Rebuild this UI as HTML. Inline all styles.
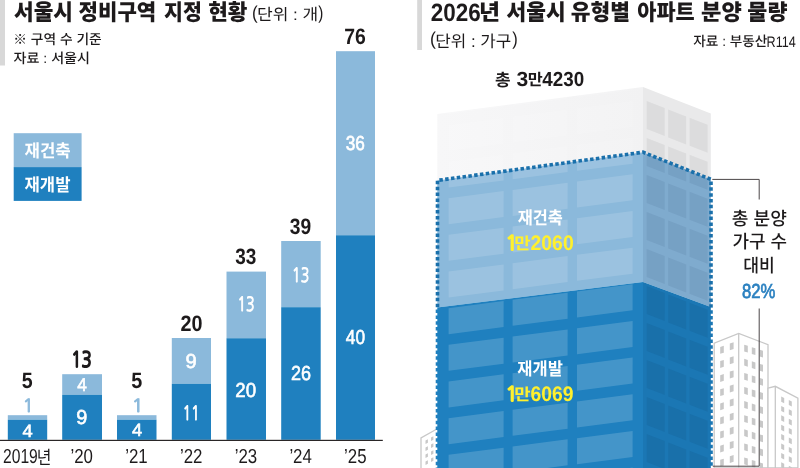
<!DOCTYPE html>
<html lang="ko"><head><meta charset="utf-8"><title>서울시 정비구역 지정 현황</title>
<style>
html,body{margin:0;padding:0;background:#fff;}
svg{display:block;font-family:"Liberation Sans","Noto Sans CJK KR",sans-serif;text-rendering:geometricPrecision;}
</style></head><body>
<svg width="800" height="468" viewBox="0 0 800 468">
<rect x="0" y="0" width="800" height="468" fill="#ffffff"/>
<rect x="0" y="0" width="5" height="65.5" fill="#d8d8d8"/>
<text fill="#1d1a1b"><tspan x="14.06" y="20.3" font-size="22.3" font-weight="900" textLength="58.91" lengthAdjust="spacingAndGlyphs">서울시</tspan> <tspan x="78.57" y="20.3" font-size="22.3" font-weight="900" textLength="77.73" lengthAdjust="spacingAndGlyphs">정비구역</tspan> <tspan x="164.0" y="20.3" font-size="22.3" font-weight="900" textLength="37.76" lengthAdjust="spacingAndGlyphs">지정</tspan> <tspan x="208.25" y="20.3" font-size="22.3" font-weight="900" textLength="39.22" lengthAdjust="spacingAndGlyphs">현황</tspan> <tspan x="252.0" y="18.94" font-size="18.5" font-weight="400" textLength="5.69" lengthAdjust="spacingAndGlyphs">(</tspan><tspan x="257.0" y="20.0" font-size="15.9" font-weight="400" textLength="61.29" lengthAdjust="spacingAndGlyphs">단위 : 개</tspan><tspan x="318.34" y="18.94" font-size="18.5" font-weight="400" textLength="5.09" lengthAdjust="spacingAndGlyphs">)</tspan></text>
<text x="13.25" y="43.9" font-size="13.7" font-weight="500" fill="#1d1a1b" textLength="88.42" lengthAdjust="spacingAndGlyphs">※ 구역 수 기준</text>
<text x="13.55" y="63.4" font-size="13.7" font-weight="500" fill="#1d1a1b" textLength="76.38" lengthAdjust="spacingAndGlyphs">자료 : 서울시</text>
<rect x="13.7" y="133.2" width="67.9" height="34" fill="#8bb9db"/>
<rect x="13.7" y="167.1" width="67.9" height="33.8" fill="#1f80bf"/>
<text x="24.56" y="156.7" font-size="17.7" font-weight="700" fill="#fff" textLength="46.15" lengthAdjust="spacingAndGlyphs">재건축</text>
<text x="24.56" y="190.85" font-size="17.7" font-weight="700" fill="#fff" textLength="45.91" lengthAdjust="spacingAndGlyphs">재개발</text>
<rect x="7.8" y="415.2" width="39.4" height="4.5" fill="#8bb9db"/>
<rect x="7.8" y="419.7" width="39.4" height="20.1" fill="#1f80bf"/>
<rect x="62.2" y="374.2" width="39.8" height="20.6" fill="#8bb9db"/>
<rect x="62.2" y="394.8" width="39.8" height="45.0" fill="#1f80bf"/>
<rect x="117" y="415.2" width="39.5" height="4.5" fill="#8bb9db"/>
<rect x="117" y="419.7" width="39.5" height="20.1" fill="#1f80bf"/>
<rect x="171.8" y="338" width="39.2" height="45.8" fill="#8bb9db"/>
<rect x="171.8" y="383.8" width="39.2" height="56.0" fill="#1f80bf"/>
<rect x="226.5" y="271.6" width="39.5" height="66.65" fill="#8bb9db"/>
<rect x="226.5" y="338.25" width="39.5" height="101.55" fill="#1f80bf"/>
<rect x="281.2" y="241" width="39.5" height="66.2" fill="#8bb9db"/>
<rect x="281.2" y="307.2" width="39.5" height="132.6" fill="#1f80bf"/>
<rect x="336" y="51.2" width="39" height="184.05" fill="#8bb9db"/>
<rect x="336" y="235.25" width="39" height="204.55" fill="#1f80bf"/>
<text x="21.86" y="387.9" font-size="22.3" font-weight="700" fill="#1d1a1b" textLength="10.91" lengthAdjust="spacingAndGlyphs">5</text>
<text x="71.28" y="367.4" font-size="21.3" font-weight="400" fill="#1d1a1b" stroke="#1d1a1b" stroke-width="1.7" textLength="20.37" lengthAdjust="spacingAndGlyphs" font-family="'NanumGothic','Liberation Sans',sans-serif">13</text>
<text x="131.34" y="388.1" font-size="22.3" font-weight="700" fill="#1d1a1b" textLength="11.03" lengthAdjust="spacingAndGlyphs">5</text>
<text x="180.5" y="331.0" font-size="22.3" font-weight="700" fill="#1d1a1b" textLength="22.03" lengthAdjust="spacingAndGlyphs">20</text>
<text x="235.29" y="264.4" font-size="22.3" font-weight="700" fill="#1d1a1b" textLength="21.12" lengthAdjust="spacingAndGlyphs">33</text>
<text x="289.79" y="234.0" font-size="22.3" font-weight="700" fill="#1d1a1b" textLength="21.39" lengthAdjust="spacingAndGlyphs">39</text>
<text x="344.32" y="44.4" font-size="22.3" font-weight="700" fill="#1d1a1b" textLength="21.59" lengthAdjust="spacingAndGlyphs">76</text>
<text x="22.75" y="411.59" font-size="18" font-weight="400" fill="#8bb9db" stroke="#8bb9db" stroke-width="1.0" textLength="10.92" lengthAdjust="spacingAndGlyphs" font-family="'NanumGothic','Liberation Sans',sans-serif">1</text>
<text x="131.79" y="412.44" font-size="18" font-weight="400" fill="#8bb9db" stroke="#8bb9db" stroke-width="1.0" textLength="11.86" lengthAdjust="spacingAndGlyphs" font-family="'NanumGothic','Liberation Sans',sans-serif">1</text>
<text x="22.57" y="436.7" font-size="17.8" font-weight="400" fill="#fff" stroke="#fff" stroke-width="0.6" textLength="10.16" lengthAdjust="spacingAndGlyphs">4</text>
<text x="77.29" y="390.59" font-size="18.6" font-weight="400" fill="#fff" stroke="#fff" stroke-width="0.6" textLength="9.64" lengthAdjust="spacingAndGlyphs">4</text>
<text x="76.35" y="423.6" font-size="20.2" font-weight="400" fill="#fff" stroke="#fff" stroke-width="0.6" textLength="11.05" lengthAdjust="spacingAndGlyphs">9</text>
<text x="132.0" y="436.2" font-size="17.8" font-weight="400" fill="#fff" stroke="#fff" stroke-width="0.6" textLength="10.17" lengthAdjust="spacingAndGlyphs">4</text>
<text x="185.52" y="368.2" font-size="20.2" font-weight="400" fill="#fff" stroke="#fff" stroke-width="0.6" textLength="11.25" lengthAdjust="spacingAndGlyphs">9</text>
<text x="182.78" y="419.69" font-size="19.4" font-weight="400" fill="#fff" stroke="#fff" stroke-width="1.0" textLength="16.79" lengthAdjust="spacingAndGlyphs" font-family="'NanumGothic','Liberation Sans',sans-serif">11</text>
<text x="237.52" y="311.41" font-size="19.4" font-weight="400" fill="#fff" stroke="#fff" stroke-width="1.0" textLength="17.14" lengthAdjust="spacingAndGlyphs" font-family="'NanumGothic','Liberation Sans',sans-serif">13</text>
<text x="235.33" y="396.75" font-size="20.2" font-weight="400" fill="#fff" stroke="#fff" stroke-width="0.6" textLength="20.83" lengthAdjust="spacingAndGlyphs">20</text>
<text x="292.07" y="281.55" font-size="19.4" font-weight="400" fill="#fff" stroke="#fff" stroke-width="1.0" textLength="17.18" lengthAdjust="spacingAndGlyphs" font-family="'NanumGothic','Liberation Sans',sans-serif">13</text>
<text x="291.02" y="380.25" font-size="20.2" font-weight="400" fill="#fff" stroke="#fff" stroke-width="0.6" textLength="20.03" lengthAdjust="spacingAndGlyphs">26</text>
<text x="345.77" y="149.5" font-size="20.2" font-weight="400" fill="#fff" stroke="#fff" stroke-width="0.6" textLength="19.14" lengthAdjust="spacingAndGlyphs">36</text>
<text x="345.83" y="344.25" font-size="20.2" font-weight="400" fill="#fff" stroke="#fff" stroke-width="0.6" textLength="19.25" lengthAdjust="spacingAndGlyphs">40</text>
<text fill="#1d1a1b"><tspan x="3.0" y="463.3" font-size="20.2" font-weight="400" textLength="34.84" lengthAdjust="spacingAndGlyphs">2019</tspan><tspan x="36.76" y="463.64" font-size="18.6" font-weight="400" textLength="14.66" lengthAdjust="spacingAndGlyphs">년</tspan></text>
<text x="70.5" y="463.3" font-size="20.2" font-weight="400" fill="#1d1a1b" textLength="22.5" lengthAdjust="spacingAndGlyphs">’20</text>
<text x="125.22" y="463.3" font-size="20.2" font-weight="400" fill="#1d1a1b" textLength="22.5" lengthAdjust="spacingAndGlyphs">’21</text>
<text x="179.94" y="463.3" font-size="20.2" font-weight="400" fill="#1d1a1b" textLength="22.5" lengthAdjust="spacingAndGlyphs">’22</text>
<text x="234.66" y="463.3" font-size="20.2" font-weight="400" fill="#1d1a1b" textLength="22.5" lengthAdjust="spacingAndGlyphs">’23</text>
<text x="289.38" y="463.3" font-size="20.2" font-weight="400" fill="#1d1a1b" textLength="22.5" lengthAdjust="spacingAndGlyphs">’24</text>
<text x="344.1" y="463.3" font-size="20.2" font-weight="400" fill="#1d1a1b" textLength="22.5" lengthAdjust="spacingAndGlyphs">’25</text>
<rect x="0" y="439.8" width="382.8" height="1.2" fill="#2a2627"/>
<rect x="417.2" y="0" width="4.8" height="50" fill="#d8d8d8"/>
<text fill="#1d1a1b"><tspan x="430.75" y="20.6" font-size="25.2" font-weight="700" textLength="49.9" lengthAdjust="spacingAndGlyphs">2026</tspan><tspan x="479.06" y="20.3" font-size="22.3" font-weight="900" textLength="21.02" lengthAdjust="spacingAndGlyphs">년</tspan> <tspan x="506.52" y="20.3" font-size="22.3" font-weight="900" textLength="59.13" lengthAdjust="spacingAndGlyphs">서울시</tspan> <tspan x="570.75" y="20.3" font-size="22.3" font-weight="900" textLength="59.21" lengthAdjust="spacingAndGlyphs">유형별</tspan> <tspan x="637.28" y="20.3" font-size="22.3" font-weight="900" textLength="57.42" lengthAdjust="spacingAndGlyphs">아파트</tspan> <tspan x="701.11" y="20.3" font-size="22.3" font-weight="900" textLength="40.78" lengthAdjust="spacingAndGlyphs">분양</tspan> <tspan x="747.36" y="20.3" font-size="22.3" font-weight="900" textLength="40.08" lengthAdjust="spacingAndGlyphs">물량</tspan></text>
<text fill="#1d1a1b"><tspan x="430.0" y="45.44" font-size="18.5" font-weight="400" textLength="5.91" lengthAdjust="spacingAndGlyphs">(</tspan><tspan x="435.33" y="46.95" font-size="16.4" font-weight="400" textLength="76.03" lengthAdjust="spacingAndGlyphs">단위 : 가구</tspan><tspan x="512.33" y="45.44" font-size="18.5" font-weight="400" textLength="5.49" lengthAdjust="spacingAndGlyphs">)</tspan></text>
<text fill="#1d1a1b"><tspan x="693.29" y="46.4" font-size="13.7" font-weight="500" textLength="74.13" lengthAdjust="spacingAndGlyphs">자료 : 부동산</tspan><tspan x="766.53" y="47.0" font-size="15.2" font-weight="500" textLength="29.25" lengthAdjust="spacingAndGlyphs">R114</tspan></text>
<text fill="#1d1a1b"><tspan x="495.05" y="85.5" font-size="17" font-weight="700" textLength="15.59" lengthAdjust="spacingAndGlyphs">총</tspan> <tspan x="516.5" y="85.7" font-size="20.5" font-weight="700" textLength="11.72" lengthAdjust="spacingAndGlyphs">3</tspan><tspan x="527.75" y="85.0" font-size="15.8" font-weight="700" textLength="14.98" lengthAdjust="spacingAndGlyphs">만</tspan><tspan x="542.37" y="85.7" font-size="20.5" font-weight="700" textLength="41.86" lengthAdjust="spacingAndGlyphs">4230</tspan></text>
<polyline points="421,468 421,438 436,429.5" fill="none" stroke="#c8c8c8" stroke-width="1.3"/>
<polygon points="425.5,440.5 427.9,439.18 427.9,442.78 425.5,444.1" fill="#c8c8c8"/>
<polygon points="431,437.5 433.4,436.18 433.4,439.78 431,441.1" fill="#c8c8c8"/>
<polygon points="425.5,447.5 427.9,446.18 427.9,449.78 425.5,451.1" fill="#c8c8c8"/>
<polygon points="431,444.5 433.4,443.18 433.4,446.78 431,448.1" fill="#c8c8c8"/>
<polygon points="425.5,454.5 427.9,453.18 427.9,456.78 425.5,458.1" fill="#c8c8c8"/>
<polygon points="431,451.5 433.4,450.18 433.4,453.78 431,455.1" fill="#c8c8c8"/>
<polygon points="425.5,461.5 427.9,460.18 427.9,463.78 425.5,465.1" fill="#c8c8c8"/>
<polygon points="431,458.5 433.4,457.18 433.4,460.78 431,462.1" fill="#c8c8c8"/>
<polygon points="714.2,468 714.2,343.2 738.7,333.5 768,344.6 768,468" fill="#fff" stroke="#c8c8c8" stroke-width="1.3"/>
<line x1="738.7" y1="333.5" x2="738.7" y2="468" stroke="#c8c8c8" stroke-width="1.3"/>
<polygon points="720.2,347.0 723.8,345.85 723.8,352.65 720.2,353.8" fill="#c8c8c8"/>
<polygon points="729.8,343.4 733.6,342.18 733.6,348.98 729.8,350.2" fill="#c8c8c8"/>
<polygon points="744.2,344.7 747.8,345.78 747.8,352.58 744.2,351.5" fill="#c8c8c8"/>
<polygon points="751.8,347.2 755.4,348.28 755.4,355.08 751.8,354.0" fill="#c8c8c8"/>
<polygon points="759.8,349.8 763.0,350.76 763.0,357.56 759.8,356.6" fill="#c8c8c8"/>
<polygon points="720.2,361.1 723.8,359.95 723.8,366.75 720.2,367.9" fill="#c8c8c8"/>
<polygon points="729.8,357.5 733.6,356.28 733.6,363.08 729.8,364.3" fill="#c8c8c8"/>
<polygon points="744.2,358.8 747.8,359.88 747.8,366.68 744.2,365.6" fill="#c8c8c8"/>
<polygon points="751.8,361.3 755.4,362.38 755.4,369.18 751.8,368.1" fill="#c8c8c8"/>
<polygon points="759.8,363.9 763.0,364.86 763.0,371.66 759.8,370.7" fill="#c8c8c8"/>
<polygon points="720.2,375.2 723.8,374.05 723.8,380.85 720.2,382.0" fill="#c8c8c8"/>
<polygon points="729.8,371.6 733.6,370.38 733.6,377.18 729.8,378.4" fill="#c8c8c8"/>
<polygon points="744.2,372.9 747.8,373.98 747.8,380.78 744.2,379.7" fill="#c8c8c8"/>
<polygon points="751.8,375.4 755.4,376.48 755.4,383.28 751.8,382.2" fill="#c8c8c8"/>
<polygon points="759.8,378.0 763.0,378.96 763.0,385.76 759.8,384.8" fill="#c8c8c8"/>
<polygon points="720.2,389.3 723.8,388.15 723.8,394.95 720.2,396.1" fill="#c8c8c8"/>
<polygon points="729.8,385.7 733.6,384.48 733.6,391.28 729.8,392.5" fill="#c8c8c8"/>
<polygon points="744.2,387.0 747.8,388.08 747.8,394.88 744.2,393.8" fill="#c8c8c8"/>
<polygon points="751.8,389.5 755.4,390.58 755.4,397.38 751.8,396.3" fill="#c8c8c8"/>
<polygon points="759.8,392.1 763.0,393.06 763.0,399.86 759.8,398.9" fill="#c8c8c8"/>
<polygon points="720.2,403.4 723.8,402.25 723.8,409.05 720.2,410.2" fill="#c8c8c8"/>
<polygon points="729.8,399.8 733.6,398.58 733.6,405.38 729.8,406.6" fill="#c8c8c8"/>
<polygon points="744.2,401.1 747.8,402.18 747.8,408.98 744.2,407.9" fill="#c8c8c8"/>
<polygon points="751.8,403.6 755.4,404.68 755.4,411.48 751.8,410.4" fill="#c8c8c8"/>
<polygon points="759.8,406.2 763.0,407.16 763.0,413.96 759.8,413.0" fill="#c8c8c8"/>
<polygon points="720.2,417.5 723.8,416.35 723.8,423.15 720.2,424.3" fill="#c8c8c8"/>
<polygon points="729.8,413.9 733.6,412.68 733.6,419.48 729.8,420.7" fill="#c8c8c8"/>
<polygon points="744.2,415.2 747.8,416.28 747.8,423.08 744.2,422.0" fill="#c8c8c8"/>
<polygon points="751.8,417.7 755.4,418.78 755.4,425.58 751.8,424.5" fill="#c8c8c8"/>
<polygon points="759.8,420.3 763.0,421.26 763.0,428.06 759.8,427.1" fill="#c8c8c8"/>
<polygon points="720.2,431.6 723.8,430.45 723.8,437.25 720.2,438.4" fill="#c8c8c8"/>
<polygon points="729.8,428.0 733.6,426.78 733.6,433.58 729.8,434.8" fill="#c8c8c8"/>
<polygon points="744.2,429.3 747.8,430.38 747.8,437.18 744.2,436.1" fill="#c8c8c8"/>
<polygon points="751.8,431.8 755.4,432.88 755.4,439.68 751.8,438.6" fill="#c8c8c8"/>
<polygon points="759.8,434.4 763.0,435.36 763.0,442.16 759.8,441.2" fill="#c8c8c8"/>
<polygon points="720.2,445.7 723.8,444.55 723.8,451.35 720.2,452.5" fill="#c8c8c8"/>
<polygon points="729.8,442.1 733.6,440.88 733.6,447.68 729.8,448.9" fill="#c8c8c8"/>
<polygon points="744.2,443.4 747.8,444.48 747.8,451.28 744.2,450.2" fill="#c8c8c8"/>
<polygon points="751.8,445.9 755.4,446.98 755.4,453.78 751.8,452.7" fill="#c8c8c8"/>
<polygon points="759.8,448.5 763.0,449.46 763.0,456.26 759.8,455.3" fill="#c8c8c8"/>
<polygon points="720.2,459.8 723.8,458.65 723.8,465.45 720.2,466.6" fill="#c8c8c8"/>
<polygon points="729.8,456.2 733.6,454.98 733.6,461.78 729.8,463.0" fill="#c8c8c8"/>
<polygon points="744.2,457.5 747.8,458.58 747.8,465.38 744.2,464.3" fill="#c8c8c8"/>
<polygon points="751.8,460.0 755.4,461.08 755.4,467.88 751.8,466.8" fill="#c8c8c8"/>
<polygon points="759.8,462.6 763.0,463.56 763.0,470.36 759.8,469.4" fill="#c8c8c8"/>
<polygon points="768,388.2 775.3,386.3 797.9,398.2 797.9,468 768,468" fill="#fff" stroke="#c8c8c8" stroke-width="1.3"/>
<line x1="775.3" y1="386.3" x2="775.3" y2="468" stroke="#c8c8c8" stroke-width="1.3"/>
<polygon points="781.2,396.5 784.2,398.0 784.2,403.2 781.2,401.7" fill="#c8c8c8"/>
<polygon points="788.8,399.9 791.8,401.4 791.8,406.6 788.8,405.1" fill="#c8c8c8"/>
<polygon points="781.2,405.9 784.2,407.4 784.2,412.6 781.2,411.1" fill="#c8c8c8"/>
<polygon points="788.8,409.3 791.8,410.8 791.8,416.0 788.8,414.5" fill="#c8c8c8"/>
<polygon points="781.2,415.3 784.2,416.8 784.2,422.0 781.2,420.5" fill="#c8c8c8"/>
<polygon points="788.8,418.7 791.8,420.2 791.8,425.4 788.8,423.9" fill="#c8c8c8"/>
<polygon points="781.2,424.7 784.2,426.2 784.2,431.4 781.2,429.9" fill="#c8c8c8"/>
<polygon points="788.8,428.1 791.8,429.6 791.8,434.8 788.8,433.3" fill="#c8c8c8"/>
<polygon points="781.2,434.1 784.2,435.6 784.2,440.8 781.2,439.3" fill="#c8c8c8"/>
<polygon points="788.8,437.5 791.8,439.0 791.8,444.2 788.8,442.7" fill="#c8c8c8"/>
<polygon points="781.2,443.5 784.2,445.0 784.2,450.2 781.2,448.7" fill="#c8c8c8"/>
<polygon points="788.8,446.9 791.8,448.4 791.8,453.6 788.8,452.1" fill="#c8c8c8"/>
<polygon points="781.2,452.9 784.2,454.4 784.2,459.6 781.2,458.1" fill="#c8c8c8"/>
<polygon points="788.8,456.3 791.8,457.8 791.8,463.0 788.8,461.5" fill="#c8c8c8"/>
<polygon points="781.2,462.3 784.2,463.8 784.2,469.0 781.2,467.5" fill="#c8c8c8"/>
<polygon points="788.8,465.7 791.8,467.2 791.8,472.4 788.8,470.9" fill="#c8c8c8"/>
<defs>
<clipPath id="cfw"><polygon points="437.3,114 643,87 643,152.2 437.3,180.4"/></clipPath>
<clipPath id="cfb"><polygon points="437.3,180.4 643,152.2 643,282 437.3,307.5"/></clipPath>
<clipPath id="cfd"><polygon points="437.3,307.5 643,282 643,468 437.3,468"/></clipPath>
<clipPath id="csw"><polygon points="643,87 710.8,113.58 710.8,179.4 643,152.2"/></clipPath>
<clipPath id="csb"><polygon points="643,152.2 710.8,179.4 710.8,307 643,282"/></clipPath>
<clipPath id="csd"><polygon points="643,282 710.8,307 710.8,468 643,468"/></clipPath>
<clipPath id="cfd2"><rect x="400" y="0" width="200" height="480"/></clipPath><clipPath id="csd2"><rect x="600" y="0" width="200" height="480"/></clipPath>
<linearGradient id="gw" x1="0" y1="0" x2="1" y2="0"><stop offset="0" stop-color="#f7f7f8"/><stop offset="1" stop-color="#f2f2f3"/></linearGradient>
</defs>
<polygon points="437.3,114 643,87 643,152.2 437.3,180.4" fill="url(#gw)"/>
<polygon points="643,87 710.8,113.58 710.8,179.4 643,152.2" fill="#e9e9ea"/>
<polygon points="437.3,180.4 643,152.2 643,282 437.3,307.5" fill="#8bb9db"/>
<polygon points="643,152.2 710.8,179.4 710.8,307 643,282" fill="#7fabce"/>
<polygon points="437.3,307.5 643,282 643,468 437.3,468" fill="#1f80bf"/>
<polygon points="643,282 710.8,307 710.8,468 643,468" fill="#1b77b4"/>
<g clip-path="url(#cfw)">
<polygon points="448.6,88.22 503.6,81.08 503.6,107.08 448.6,114.22" fill="#ffffff" fill-opacity="0.13"/>
<polygon points="448.6,124.88 503.6,117.74 503.6,143.74 448.6,150.88" fill="#ffffff" fill-opacity="0.13"/>
<polygon points="448.6,161.54 503.6,154.4 503.6,180.4 448.6,187.54" fill="#ffffff" fill-opacity="0.13"/>
<polygon points="448.6,198.2 503.6,191.06 503.6,217.06 448.6,224.2" fill="#ffffff" fill-opacity="0.13"/>
<polygon points="448.6,234.86 503.6,227.72 503.6,253.72 448.6,260.86" fill="#ffffff" fill-opacity="0.13"/>
<polygon points="448.6,271.52 503.6,264.38 503.6,290.38 448.6,297.52" fill="#ffffff" fill-opacity="0.13"/>
<polygon points="448.6,308.18 503.6,301.04 503.6,327.04 448.6,334.18" fill="#ffffff" fill-opacity="0.13"/>
<polygon points="448.6,344.84 503.6,337.7 503.6,363.7 448.6,370.84" fill="#ffffff" fill-opacity="0.13"/>
<polygon points="448.6,381.5 503.6,374.36 503.6,400.36 448.6,407.5" fill="#ffffff" fill-opacity="0.13"/>
<polygon points="448.6,418.16 503.6,411.02 503.6,437.02 448.6,444.16" fill="#ffffff" fill-opacity="0.13"/>
<polygon points="448.6,454.82 503.6,447.68 503.6,473.68 448.6,480.82" fill="#ffffff" fill-opacity="0.13"/>
<polygon points="448.6,491.48 503.6,484.34 503.6,510.34 448.6,517.48" fill="#ffffff" fill-opacity="0.13"/>
<polygon points="512.6,79.91 567.6,72.77 567.6,98.77 512.6,105.91" fill="#ffffff" fill-opacity="0.13"/>
<polygon points="512.6,116.57 567.6,109.43 567.6,135.43 512.6,142.57" fill="#ffffff" fill-opacity="0.13"/>
<polygon points="512.6,153.23 567.6,146.09 567.6,172.09 512.6,179.23" fill="#ffffff" fill-opacity="0.13"/>
<polygon points="512.6,189.89 567.6,182.75 567.6,208.75 512.6,215.89" fill="#ffffff" fill-opacity="0.13"/>
<polygon points="512.6,226.55 567.6,219.41 567.6,245.41 512.6,252.55" fill="#ffffff" fill-opacity="0.13"/>
<polygon points="512.6,263.21 567.6,256.07 567.6,282.07 512.6,289.21" fill="#ffffff" fill-opacity="0.13"/>
<polygon points="512.6,299.87 567.6,292.73 567.6,318.73 512.6,325.87" fill="#ffffff" fill-opacity="0.13"/>
<polygon points="512.6,336.53 567.6,329.39 567.6,355.39 512.6,362.53" fill="#ffffff" fill-opacity="0.13"/>
<polygon points="512.6,373.19 567.6,366.05 567.6,392.05 512.6,399.19" fill="#ffffff" fill-opacity="0.13"/>
<polygon points="512.6,409.85 567.6,402.71 567.6,428.71 512.6,435.85" fill="#ffffff" fill-opacity="0.13"/>
<polygon points="512.6,446.51 567.6,439.37 567.6,465.37 512.6,472.51" fill="#ffffff" fill-opacity="0.13"/>
<polygon points="512.6,483.17 567.6,476.03 567.6,502.03 512.6,509.17" fill="#ffffff" fill-opacity="0.13"/>
<polygon points="577,71.55 632.6,64.33 632.6,90.33 577,97.55" fill="#ffffff" fill-opacity="0.13"/>
<polygon points="577,108.21 632.6,100.99 632.6,126.99 577,134.21" fill="#ffffff" fill-opacity="0.13"/>
<polygon points="577,144.87 632.6,137.65 632.6,163.65 577,170.87" fill="#ffffff" fill-opacity="0.13"/>
<polygon points="577,181.53 632.6,174.31 632.6,200.31 577,207.53" fill="#ffffff" fill-opacity="0.13"/>
<polygon points="577,218.19 632.6,210.97 632.6,236.97 577,244.19" fill="#ffffff" fill-opacity="0.13"/>
<polygon points="577,254.85 632.6,247.63 632.6,273.63 577,280.85" fill="#ffffff" fill-opacity="0.13"/>
<polygon points="577,291.51 632.6,284.29 632.6,310.29 577,317.51" fill="#ffffff" fill-opacity="0.13"/>
<polygon points="577,328.17 632.6,320.95 632.6,346.95 577,354.17" fill="#ffffff" fill-opacity="0.13"/>
<polygon points="577,364.83 632.6,357.61 632.6,383.61 577,390.83" fill="#ffffff" fill-opacity="0.13"/>
<polygon points="577,401.49 632.6,394.27 632.6,420.27 577,427.49" fill="#ffffff" fill-opacity="0.13"/>
<polygon points="577,438.15 632.6,430.93 632.6,456.93 577,464.15" fill="#ffffff" fill-opacity="0.13"/>
<polygon points="577,474.81 632.6,467.59 632.6,493.59 577,500.81" fill="#ffffff" fill-opacity="0.13"/>
</g>
<g clip-path="url(#cfb)">
<polygon points="448.6,88.22 503.6,81.08 503.6,107.08 448.6,114.22" fill="#ffffff" fill-opacity="0.14"/>
<polygon points="448.6,124.88 503.6,117.74 503.6,143.74 448.6,150.88" fill="#ffffff" fill-opacity="0.14"/>
<polygon points="448.6,161.54 503.6,154.4 503.6,180.4 448.6,187.54" fill="#ffffff" fill-opacity="0.14"/>
<polygon points="448.6,198.2 503.6,191.06 503.6,217.06 448.6,224.2" fill="#ffffff" fill-opacity="0.14"/>
<polygon points="448.6,234.86 503.6,227.72 503.6,253.72 448.6,260.86" fill="#ffffff" fill-opacity="0.14"/>
<polygon points="448.6,271.52 503.6,264.38 503.6,290.38 448.6,297.52" fill="#ffffff" fill-opacity="0.14"/>
<polygon points="448.6,308.18 503.6,301.04 503.6,327.04 448.6,334.18" fill="#ffffff" fill-opacity="0.14"/>
<polygon points="448.6,344.84 503.6,337.7 503.6,363.7 448.6,370.84" fill="#ffffff" fill-opacity="0.14"/>
<polygon points="448.6,381.5 503.6,374.36 503.6,400.36 448.6,407.5" fill="#ffffff" fill-opacity="0.14"/>
<polygon points="448.6,418.16 503.6,411.02 503.6,437.02 448.6,444.16" fill="#ffffff" fill-opacity="0.14"/>
<polygon points="448.6,454.82 503.6,447.68 503.6,473.68 448.6,480.82" fill="#ffffff" fill-opacity="0.14"/>
<polygon points="448.6,491.48 503.6,484.34 503.6,510.34 448.6,517.48" fill="#ffffff" fill-opacity="0.14"/>
<polygon points="512.6,79.91 567.6,72.77 567.6,98.77 512.6,105.91" fill="#ffffff" fill-opacity="0.14"/>
<polygon points="512.6,116.57 567.6,109.43 567.6,135.43 512.6,142.57" fill="#ffffff" fill-opacity="0.14"/>
<polygon points="512.6,153.23 567.6,146.09 567.6,172.09 512.6,179.23" fill="#ffffff" fill-opacity="0.14"/>
<polygon points="512.6,189.89 567.6,182.75 567.6,208.75 512.6,215.89" fill="#ffffff" fill-opacity="0.14"/>
<polygon points="512.6,226.55 567.6,219.41 567.6,245.41 512.6,252.55" fill="#ffffff" fill-opacity="0.14"/>
<polygon points="512.6,263.21 567.6,256.07 567.6,282.07 512.6,289.21" fill="#ffffff" fill-opacity="0.14"/>
<polygon points="512.6,299.87 567.6,292.73 567.6,318.73 512.6,325.87" fill="#ffffff" fill-opacity="0.14"/>
<polygon points="512.6,336.53 567.6,329.39 567.6,355.39 512.6,362.53" fill="#ffffff" fill-opacity="0.14"/>
<polygon points="512.6,373.19 567.6,366.05 567.6,392.05 512.6,399.19" fill="#ffffff" fill-opacity="0.14"/>
<polygon points="512.6,409.85 567.6,402.71 567.6,428.71 512.6,435.85" fill="#ffffff" fill-opacity="0.14"/>
<polygon points="512.6,446.51 567.6,439.37 567.6,465.37 512.6,472.51" fill="#ffffff" fill-opacity="0.14"/>
<polygon points="512.6,483.17 567.6,476.03 567.6,502.03 512.6,509.17" fill="#ffffff" fill-opacity="0.14"/>
<polygon points="577,71.55 632.6,64.33 632.6,90.33 577,97.55" fill="#ffffff" fill-opacity="0.14"/>
<polygon points="577,108.21 632.6,100.99 632.6,126.99 577,134.21" fill="#ffffff" fill-opacity="0.14"/>
<polygon points="577,144.87 632.6,137.65 632.6,163.65 577,170.87" fill="#ffffff" fill-opacity="0.14"/>
<polygon points="577,181.53 632.6,174.31 632.6,200.31 577,207.53" fill="#ffffff" fill-opacity="0.14"/>
<polygon points="577,218.19 632.6,210.97 632.6,236.97 577,244.19" fill="#ffffff" fill-opacity="0.14"/>
<polygon points="577,254.85 632.6,247.63 632.6,273.63 577,280.85" fill="#ffffff" fill-opacity="0.14"/>
<polygon points="577,291.51 632.6,284.29 632.6,310.29 577,317.51" fill="#ffffff" fill-opacity="0.14"/>
<polygon points="577,328.17 632.6,320.95 632.6,346.95 577,354.17" fill="#ffffff" fill-opacity="0.14"/>
<polygon points="577,364.83 632.6,357.61 632.6,383.61 577,390.83" fill="#ffffff" fill-opacity="0.14"/>
<polygon points="577,401.49 632.6,394.27 632.6,420.27 577,427.49" fill="#ffffff" fill-opacity="0.14"/>
<polygon points="577,438.15 632.6,430.93 632.6,456.93 577,464.15" fill="#ffffff" fill-opacity="0.14"/>
<polygon points="577,474.81 632.6,467.59 632.6,493.59 577,500.81" fill="#ffffff" fill-opacity="0.14"/>
</g>
<g clip-path="url(#cfd)">
<polygon points="448.6,88.22 503.6,81.08 503.6,107.08 448.6,114.22" fill="#ffffff" fill-opacity="0.17"/>
<polygon points="448.6,124.88 503.6,117.74 503.6,143.74 448.6,150.88" fill="#ffffff" fill-opacity="0.17"/>
<polygon points="448.6,161.54 503.6,154.4 503.6,180.4 448.6,187.54" fill="#ffffff" fill-opacity="0.17"/>
<polygon points="448.6,198.2 503.6,191.06 503.6,217.06 448.6,224.2" fill="#ffffff" fill-opacity="0.17"/>
<polygon points="448.6,234.86 503.6,227.72 503.6,253.72 448.6,260.86" fill="#ffffff" fill-opacity="0.17"/>
<polygon points="448.6,271.52 503.6,264.38 503.6,290.38 448.6,297.52" fill="#ffffff" fill-opacity="0.17"/>
<polygon points="448.6,308.18 503.6,301.04 503.6,327.04 448.6,334.18" fill="#ffffff" fill-opacity="0.17"/>
<polygon points="448.6,344.84 503.6,337.7 503.6,363.7 448.6,370.84" fill="#ffffff" fill-opacity="0.17"/>
<polygon points="448.6,381.5 503.6,374.36 503.6,400.36 448.6,407.5" fill="#ffffff" fill-opacity="0.17"/>
<polygon points="448.6,418.16 503.6,411.02 503.6,437.02 448.6,444.16" fill="#ffffff" fill-opacity="0.17"/>
<polygon points="448.6,454.82 503.6,447.68 503.6,473.68 448.6,480.82" fill="#ffffff" fill-opacity="0.17"/>
<polygon points="448.6,491.48 503.6,484.34 503.6,510.34 448.6,517.48" fill="#ffffff" fill-opacity="0.17"/>
<polygon points="512.6,79.91 567.6,72.77 567.6,98.77 512.6,105.91" fill="#ffffff" fill-opacity="0.17"/>
<polygon points="512.6,116.57 567.6,109.43 567.6,135.43 512.6,142.57" fill="#ffffff" fill-opacity="0.17"/>
<polygon points="512.6,153.23 567.6,146.09 567.6,172.09 512.6,179.23" fill="#ffffff" fill-opacity="0.17"/>
<polygon points="512.6,189.89 567.6,182.75 567.6,208.75 512.6,215.89" fill="#ffffff" fill-opacity="0.17"/>
<polygon points="512.6,226.55 567.6,219.41 567.6,245.41 512.6,252.55" fill="#ffffff" fill-opacity="0.17"/>
<polygon points="512.6,263.21 567.6,256.07 567.6,282.07 512.6,289.21" fill="#ffffff" fill-opacity="0.17"/>
<polygon points="512.6,299.87 567.6,292.73 567.6,318.73 512.6,325.87" fill="#ffffff" fill-opacity="0.17"/>
<polygon points="512.6,336.53 567.6,329.39 567.6,355.39 512.6,362.53" fill="#ffffff" fill-opacity="0.17"/>
<polygon points="512.6,373.19 567.6,366.05 567.6,392.05 512.6,399.19" fill="#ffffff" fill-opacity="0.17"/>
<polygon points="512.6,409.85 567.6,402.71 567.6,428.71 512.6,435.85" fill="#ffffff" fill-opacity="0.17"/>
<polygon points="512.6,446.51 567.6,439.37 567.6,465.37 512.6,472.51" fill="#ffffff" fill-opacity="0.17"/>
<polygon points="512.6,483.17 567.6,476.03 567.6,502.03 512.6,509.17" fill="#ffffff" fill-opacity="0.17"/>
<polygon points="577,71.55 632.6,64.33 632.6,90.33 577,97.55" fill="#ffffff" fill-opacity="0.17"/>
<polygon points="577,108.21 632.6,100.99 632.6,126.99 577,134.21" fill="#ffffff" fill-opacity="0.17"/>
<polygon points="577,144.87 632.6,137.65 632.6,163.65 577,170.87" fill="#ffffff" fill-opacity="0.17"/>
<polygon points="577,181.53 632.6,174.31 632.6,200.31 577,207.53" fill="#ffffff" fill-opacity="0.17"/>
<polygon points="577,218.19 632.6,210.97 632.6,236.97 577,244.19" fill="#ffffff" fill-opacity="0.17"/>
<polygon points="577,254.85 632.6,247.63 632.6,273.63 577,280.85" fill="#ffffff" fill-opacity="0.17"/>
<polygon points="577,291.51 632.6,284.29 632.6,310.29 577,317.51" fill="#ffffff" fill-opacity="0.17"/>
<polygon points="577,328.17 632.6,320.95 632.6,346.95 577,354.17" fill="#ffffff" fill-opacity="0.17"/>
<polygon points="577,364.83 632.6,357.61 632.6,383.61 577,390.83" fill="#ffffff" fill-opacity="0.17"/>
<polygon points="577,401.49 632.6,394.27 632.6,420.27 577,427.49" fill="#ffffff" fill-opacity="0.17"/>
<polygon points="577,438.15 632.6,430.93 632.6,456.93 577,464.15" fill="#ffffff" fill-opacity="0.17"/>
<polygon points="577,474.81 632.6,467.59 632.6,493.59 577,500.81" fill="#ffffff" fill-opacity="0.17"/>
</g>
<g clip-path="url(#csw)">
<polygon points="646.7,101.0 664.7,108.06 664.7,136.06 646.7,129.0" fill="#000000" fill-opacity="0.055"/>
<polygon points="646.7,138.0 664.7,145.06 664.7,173.06 646.7,166.0" fill="#000000" fill-opacity="0.055"/>
<polygon points="646.7,175.0 664.7,182.06 664.7,210.06 646.7,203.0" fill="#000000" fill-opacity="0.055"/>
<polygon points="646.7,212.0 664.7,219.06 664.7,247.06 646.7,240.0" fill="#000000" fill-opacity="0.055"/>
<polygon points="646.7,249.0 664.7,256.06 664.7,284.06 646.7,277.0" fill="#000000" fill-opacity="0.055"/>
<polygon points="646.7,286.0 664.7,293.06 664.7,321.06 646.7,314.0" fill="#000000" fill-opacity="0.055"/>
<polygon points="646.7,323.0 664.7,330.06 664.7,358.06 646.7,351.0" fill="#000000" fill-opacity="0.055"/>
<polygon points="646.7,360.0 664.7,367.06 664.7,395.06 646.7,388.0" fill="#000000" fill-opacity="0.055"/>
<polygon points="646.7,397.0 664.7,404.06 664.7,432.06 646.7,425.0" fill="#000000" fill-opacity="0.055"/>
<polygon points="646.7,434.0 664.7,441.06 664.7,469.06 646.7,462.0" fill="#000000" fill-opacity="0.055"/>
<polygon points="646.7,471.0 664.7,478.06 664.7,506.06 646.7,499.0" fill="#000000" fill-opacity="0.055"/>
<polygon points="668.2,109.43 686.2,116.48 686.2,144.48 668.2,137.43" fill="#000000" fill-opacity="0.055"/>
<polygon points="668.2,146.43 686.2,153.48 686.2,181.48 668.2,174.43" fill="#000000" fill-opacity="0.055"/>
<polygon points="668.2,183.43 686.2,190.48 686.2,218.48 668.2,211.43" fill="#000000" fill-opacity="0.055"/>
<polygon points="668.2,220.43 686.2,227.48 686.2,255.48 668.2,248.43" fill="#000000" fill-opacity="0.055"/>
<polygon points="668.2,257.43 686.2,264.48 686.2,292.48 668.2,285.43" fill="#000000" fill-opacity="0.055"/>
<polygon points="668.2,294.43 686.2,301.48 686.2,329.48 668.2,322.43" fill="#000000" fill-opacity="0.055"/>
<polygon points="668.2,331.43 686.2,338.48 686.2,366.48 668.2,359.43" fill="#000000" fill-opacity="0.055"/>
<polygon points="668.2,368.43 686.2,375.48 686.2,403.48 668.2,396.43" fill="#000000" fill-opacity="0.055"/>
<polygon points="668.2,405.43 686.2,412.48 686.2,440.48 668.2,433.43" fill="#000000" fill-opacity="0.055"/>
<polygon points="668.2,442.43 686.2,449.48 686.2,477.48 668.2,470.43" fill="#000000" fill-opacity="0.055"/>
<polygon points="668.2,479.43 686.2,486.48 686.2,514.48 668.2,507.43" fill="#000000" fill-opacity="0.055"/>
<polygon points="689.6,117.82 707.6,124.87 707.6,152.87 689.6,145.82" fill="#000000" fill-opacity="0.055"/>
<polygon points="689.6,154.82 707.6,161.87 707.6,189.87 689.6,182.82" fill="#000000" fill-opacity="0.055"/>
<polygon points="689.6,191.82 707.6,198.87 707.6,226.87 689.6,219.82" fill="#000000" fill-opacity="0.055"/>
<polygon points="689.6,228.82 707.6,235.87 707.6,263.87 689.6,256.82" fill="#000000" fill-opacity="0.055"/>
<polygon points="689.6,265.82 707.6,272.87 707.6,300.87 689.6,293.82" fill="#000000" fill-opacity="0.055"/>
<polygon points="689.6,302.82 707.6,309.87 707.6,337.87 689.6,330.82" fill="#000000" fill-opacity="0.055"/>
<polygon points="689.6,339.82 707.6,346.87 707.6,374.87 689.6,367.82" fill="#000000" fill-opacity="0.055"/>
<polygon points="689.6,376.82 707.6,383.87 707.6,411.87 689.6,404.82" fill="#000000" fill-opacity="0.055"/>
<polygon points="689.6,413.82 707.6,420.87 707.6,448.87 689.6,441.82" fill="#000000" fill-opacity="0.055"/>
<polygon points="689.6,450.82 707.6,457.87 707.6,485.87 689.6,478.82" fill="#000000" fill-opacity="0.055"/>
<polygon points="689.6,487.82 707.6,494.87 707.6,522.87 689.6,515.82" fill="#000000" fill-opacity="0.055"/>
</g>
<g clip-path="url(#csb)">
<polygon points="646.7,101.0 664.7,108.06 664.7,136.06 646.7,129.0" fill="#0a2a50" fill-opacity="0.075"/>
<polygon points="646.7,138.0 664.7,145.06 664.7,173.06 646.7,166.0" fill="#0a2a50" fill-opacity="0.075"/>
<polygon points="646.7,175.0 664.7,182.06 664.7,210.06 646.7,203.0" fill="#0a2a50" fill-opacity="0.075"/>
<polygon points="646.7,212.0 664.7,219.06 664.7,247.06 646.7,240.0" fill="#0a2a50" fill-opacity="0.075"/>
<polygon points="646.7,249.0 664.7,256.06 664.7,284.06 646.7,277.0" fill="#0a2a50" fill-opacity="0.075"/>
<polygon points="646.7,286.0 664.7,293.06 664.7,321.06 646.7,314.0" fill="#0a2a50" fill-opacity="0.075"/>
<polygon points="646.7,323.0 664.7,330.06 664.7,358.06 646.7,351.0" fill="#0a2a50" fill-opacity="0.075"/>
<polygon points="646.7,360.0 664.7,367.06 664.7,395.06 646.7,388.0" fill="#0a2a50" fill-opacity="0.075"/>
<polygon points="646.7,397.0 664.7,404.06 664.7,432.06 646.7,425.0" fill="#0a2a50" fill-opacity="0.075"/>
<polygon points="646.7,434.0 664.7,441.06 664.7,469.06 646.7,462.0" fill="#0a2a50" fill-opacity="0.075"/>
<polygon points="646.7,471.0 664.7,478.06 664.7,506.06 646.7,499.0" fill="#0a2a50" fill-opacity="0.075"/>
<polygon points="668.2,109.43 686.2,116.48 686.2,144.48 668.2,137.43" fill="#0a2a50" fill-opacity="0.075"/>
<polygon points="668.2,146.43 686.2,153.48 686.2,181.48 668.2,174.43" fill="#0a2a50" fill-opacity="0.075"/>
<polygon points="668.2,183.43 686.2,190.48 686.2,218.48 668.2,211.43" fill="#0a2a50" fill-opacity="0.075"/>
<polygon points="668.2,220.43 686.2,227.48 686.2,255.48 668.2,248.43" fill="#0a2a50" fill-opacity="0.075"/>
<polygon points="668.2,257.43 686.2,264.48 686.2,292.48 668.2,285.43" fill="#0a2a50" fill-opacity="0.075"/>
<polygon points="668.2,294.43 686.2,301.48 686.2,329.48 668.2,322.43" fill="#0a2a50" fill-opacity="0.075"/>
<polygon points="668.2,331.43 686.2,338.48 686.2,366.48 668.2,359.43" fill="#0a2a50" fill-opacity="0.075"/>
<polygon points="668.2,368.43 686.2,375.48 686.2,403.48 668.2,396.43" fill="#0a2a50" fill-opacity="0.075"/>
<polygon points="668.2,405.43 686.2,412.48 686.2,440.48 668.2,433.43" fill="#0a2a50" fill-opacity="0.075"/>
<polygon points="668.2,442.43 686.2,449.48 686.2,477.48 668.2,470.43" fill="#0a2a50" fill-opacity="0.075"/>
<polygon points="668.2,479.43 686.2,486.48 686.2,514.48 668.2,507.43" fill="#0a2a50" fill-opacity="0.075"/>
<polygon points="689.6,117.82 707.6,124.87 707.6,152.87 689.6,145.82" fill="#0a2a50" fill-opacity="0.075"/>
<polygon points="689.6,154.82 707.6,161.87 707.6,189.87 689.6,182.82" fill="#0a2a50" fill-opacity="0.075"/>
<polygon points="689.6,191.82 707.6,198.87 707.6,226.87 689.6,219.82" fill="#0a2a50" fill-opacity="0.075"/>
<polygon points="689.6,228.82 707.6,235.87 707.6,263.87 689.6,256.82" fill="#0a2a50" fill-opacity="0.075"/>
<polygon points="689.6,265.82 707.6,272.87 707.6,300.87 689.6,293.82" fill="#0a2a50" fill-opacity="0.075"/>
<polygon points="689.6,302.82 707.6,309.87 707.6,337.87 689.6,330.82" fill="#0a2a50" fill-opacity="0.075"/>
<polygon points="689.6,339.82 707.6,346.87 707.6,374.87 689.6,367.82" fill="#0a2a50" fill-opacity="0.075"/>
<polygon points="689.6,376.82 707.6,383.87 707.6,411.87 689.6,404.82" fill="#0a2a50" fill-opacity="0.075"/>
<polygon points="689.6,413.82 707.6,420.87 707.6,448.87 689.6,441.82" fill="#0a2a50" fill-opacity="0.075"/>
<polygon points="689.6,450.82 707.6,457.87 707.6,485.87 689.6,478.82" fill="#0a2a50" fill-opacity="0.075"/>
<polygon points="689.6,487.82 707.6,494.87 707.6,522.87 689.6,515.82" fill="#0a2a50" fill-opacity="0.075"/>
</g>
<g clip-path="url(#csd)">
<polygon points="646.7,101.0 664.7,108.06 664.7,136.06 646.7,129.0" fill="#0a2a50" fill-opacity="0.09"/>
<polygon points="646.7,138.0 664.7,145.06 664.7,173.06 646.7,166.0" fill="#0a2a50" fill-opacity="0.09"/>
<polygon points="646.7,175.0 664.7,182.06 664.7,210.06 646.7,203.0" fill="#0a2a50" fill-opacity="0.09"/>
<polygon points="646.7,212.0 664.7,219.06 664.7,247.06 646.7,240.0" fill="#0a2a50" fill-opacity="0.09"/>
<polygon points="646.7,249.0 664.7,256.06 664.7,284.06 646.7,277.0" fill="#0a2a50" fill-opacity="0.09"/>
<polygon points="646.7,286.0 664.7,293.06 664.7,321.06 646.7,314.0" fill="#0a2a50" fill-opacity="0.09"/>
<polygon points="646.7,323.0 664.7,330.06 664.7,358.06 646.7,351.0" fill="#0a2a50" fill-opacity="0.09"/>
<polygon points="646.7,360.0 664.7,367.06 664.7,395.06 646.7,388.0" fill="#0a2a50" fill-opacity="0.09"/>
<polygon points="646.7,397.0 664.7,404.06 664.7,432.06 646.7,425.0" fill="#0a2a50" fill-opacity="0.09"/>
<polygon points="646.7,434.0 664.7,441.06 664.7,469.06 646.7,462.0" fill="#0a2a50" fill-opacity="0.09"/>
<polygon points="646.7,471.0 664.7,478.06 664.7,506.06 646.7,499.0" fill="#0a2a50" fill-opacity="0.09"/>
<polygon points="668.2,109.43 686.2,116.48 686.2,144.48 668.2,137.43" fill="#0a2a50" fill-opacity="0.09"/>
<polygon points="668.2,146.43 686.2,153.48 686.2,181.48 668.2,174.43" fill="#0a2a50" fill-opacity="0.09"/>
<polygon points="668.2,183.43 686.2,190.48 686.2,218.48 668.2,211.43" fill="#0a2a50" fill-opacity="0.09"/>
<polygon points="668.2,220.43 686.2,227.48 686.2,255.48 668.2,248.43" fill="#0a2a50" fill-opacity="0.09"/>
<polygon points="668.2,257.43 686.2,264.48 686.2,292.48 668.2,285.43" fill="#0a2a50" fill-opacity="0.09"/>
<polygon points="668.2,294.43 686.2,301.48 686.2,329.48 668.2,322.43" fill="#0a2a50" fill-opacity="0.09"/>
<polygon points="668.2,331.43 686.2,338.48 686.2,366.48 668.2,359.43" fill="#0a2a50" fill-opacity="0.09"/>
<polygon points="668.2,368.43 686.2,375.48 686.2,403.48 668.2,396.43" fill="#0a2a50" fill-opacity="0.09"/>
<polygon points="668.2,405.43 686.2,412.48 686.2,440.48 668.2,433.43" fill="#0a2a50" fill-opacity="0.09"/>
<polygon points="668.2,442.43 686.2,449.48 686.2,477.48 668.2,470.43" fill="#0a2a50" fill-opacity="0.09"/>
<polygon points="668.2,479.43 686.2,486.48 686.2,514.48 668.2,507.43" fill="#0a2a50" fill-opacity="0.09"/>
<polygon points="689.6,117.82 707.6,124.87 707.6,152.87 689.6,145.82" fill="#0a2a50" fill-opacity="0.09"/>
<polygon points="689.6,154.82 707.6,161.87 707.6,189.87 689.6,182.82" fill="#0a2a50" fill-opacity="0.09"/>
<polygon points="689.6,191.82 707.6,198.87 707.6,226.87 689.6,219.82" fill="#0a2a50" fill-opacity="0.09"/>
<polygon points="689.6,228.82 707.6,235.87 707.6,263.87 689.6,256.82" fill="#0a2a50" fill-opacity="0.09"/>
<polygon points="689.6,265.82 707.6,272.87 707.6,300.87 689.6,293.82" fill="#0a2a50" fill-opacity="0.09"/>
<polygon points="689.6,302.82 707.6,309.87 707.6,337.87 689.6,330.82" fill="#0a2a50" fill-opacity="0.09"/>
<polygon points="689.6,339.82 707.6,346.87 707.6,374.87 689.6,367.82" fill="#0a2a50" fill-opacity="0.09"/>
<polygon points="689.6,376.82 707.6,383.87 707.6,411.87 689.6,404.82" fill="#0a2a50" fill-opacity="0.09"/>
<polygon points="689.6,413.82 707.6,420.87 707.6,448.87 689.6,441.82" fill="#0a2a50" fill-opacity="0.09"/>
<polygon points="689.6,450.82 707.6,457.87 707.6,485.87 689.6,478.82" fill="#0a2a50" fill-opacity="0.09"/>
<polygon points="689.6,487.82 707.6,494.87 707.6,522.87 689.6,515.82" fill="#0a2a50" fill-opacity="0.09"/>
</g>
<defs><clipPath id="cup"><rect x="400" y="0" width="400" height="307.3"/></clipPath><clipPath id="clow"><rect x="400" y="307.3" width="400" height="170"/></clipPath></defs>
<polyline points="437.5,470 437.5,180.4 643,152.2 711.0,179.4 711.0,470" fill="none" stroke="#1a70ab" stroke-width="3.6" stroke-dasharray="3.5 2.35" stroke-dashoffset="1" clip-path="url(#cup)"/>
<g clip-path="url(#clow)"><polyline points="437.5,470 437.5,180.4 643,152.2 711.0,179.4 711.0,470" fill="none" stroke="#1f80bf" stroke-width="3.6" stroke-dasharray="3.5 2.35" stroke-dashoffset="1" clip-path="url(#cfd2)"/><polyline points="437.5,470 437.5,180.4 643,152.2 711.0,179.4 711.0,470" fill="none" stroke="#1b77b4" stroke-width="3.6" stroke-dasharray="3.5 2.35" stroke-dashoffset="1" clip-path="url(#csd2)"/></g>
<polyline points="712.3,179.4 759.2,179.4 759.2,199.5" fill="none" stroke="#4a4647" stroke-width="1"/>
<polyline points="759.2,308.5 759.2,466.2 712.8,466.2" fill="none" stroke="#4a4647" stroke-width="1"/>
<text x="731.84" y="224.76" font-size="18.4" font-weight="500" fill="#1d1a1b" textLength="54.96" lengthAdjust="spacingAndGlyphs">총 분양</text>
<text x="732.58" y="247.91" font-size="18.4" font-weight="500" fill="#1d1a1b" textLength="54.56" lengthAdjust="spacingAndGlyphs">가구 수</text>
<text x="743.25" y="271.6" font-size="18.4" font-weight="500" fill="#1d1a1b" textLength="31.58" lengthAdjust="spacingAndGlyphs">대비</text>
<text x="742.06" y="298.0" font-size="20.3" font-weight="400" fill="#2a80c0" stroke="#2a80c0" stroke-width="0.7" textLength="33.41" lengthAdjust="spacingAndGlyphs">82%</text>
<text x="517.68" y="224.19" font-size="17.5" font-weight="700" fill="#fff" textLength="45.17" lengthAdjust="spacingAndGlyphs">재건축</text>
<text x="517.31" y="374.84" font-size="17.5" font-weight="700" fill="#fff" textLength="45.53" lengthAdjust="spacingAndGlyphs">재개발</text>
<text fill="#fff02d"><tspan x="505.64" y="250.0" font-family="'NanumGothic','Liberation Sans',sans-serif" font-size="20" font-weight="400" stroke="#fff02d" stroke-width="1.7" textLength="12.22" lengthAdjust="spacingAndGlyphs">1</tspan><tspan x="514.31" y="249.35" font-size="16.3" font-weight="700" textLength="16.33" lengthAdjust="spacingAndGlyphs">만</tspan><tspan x="530.57" y="250.0" font-size="21" font-weight="700" textLength="43.11" lengthAdjust="spacingAndGlyphs">2060</tspan></text>
<text fill="#fff02d"><tspan x="505.64" y="400.8" font-family="'NanumGothic','Liberation Sans',sans-serif" font-size="20" font-weight="400" stroke="#fff02d" stroke-width="1.7" textLength="12.22" lengthAdjust="spacingAndGlyphs">1</tspan><tspan x="514.31" y="400.35" font-size="16.3" font-weight="700" textLength="16.33" lengthAdjust="spacingAndGlyphs">만</tspan><tspan x="530.54" y="400.8" font-size="21" font-weight="700" textLength="43.02" lengthAdjust="spacingAndGlyphs">6069</tspan></text>
</svg>
</body></html>
